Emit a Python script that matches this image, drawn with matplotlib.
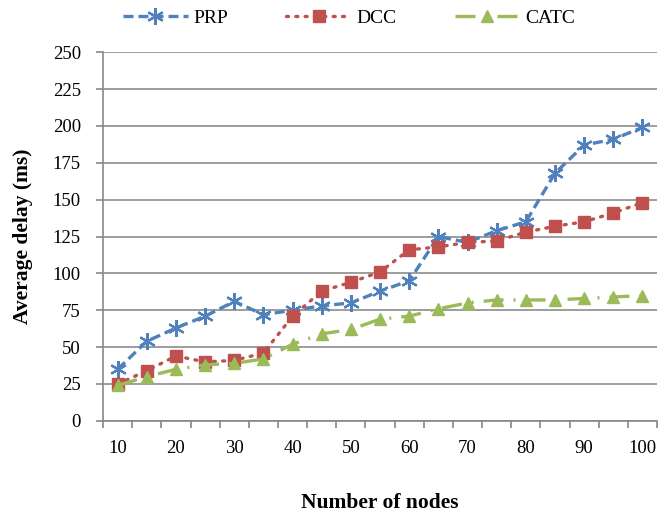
import matplotlib
matplotlib.use('agg')
import matplotlib.pyplot as plt
import numpy as np

nodes = [10, 15, 20, 25, 30, 35, 40, 45, 50, 55, 60, 65, 70, 75, 80, 85, 90, 95, 100]
prp = [35, 54, 63, 71, 81, 72, 75, 78, 80, 88, 95, 125, 121, 129, 135, 168, 187, 191, 199]
dcc = [25, 34, 44, 40, 41, 46, 71, 88, 94, 101, 116, 118, 121, 122, 128, 132, 135, 141, 148]
catc = [24, 30, 35, 38, 39, 42, 52, 59, 62, 69, 71, 76, 80, 82, 82, 82, 83, 84, 85]

plt.rcParams['font.family'] = ['Liberation Serif', 'DejaVu Serif']
plt.rcParams['font.size'] = 13.5

fig = plt.figure(figsize=(6.61, 5.12), dpi=100)
ax = fig.add_axes([0.156, 0.178, 0.838, 0.72])

x = np.arange(len(nodes))
ax.plot(x, prp, color='#4F81BD', linestyle=(0, (3, 1.5)), linewidth=2.4,
        marker=(6, 2, 0), markersize=12, markeredgewidth=1.6, label='PRP')
ax.plot(x, dcc, color='#C0504D', linestyle=(0, (0.6, 2.2)), linewidth=2.4,
        dash_capstyle='round', marker='s', markersize=9, label='DCC')
ax.plot(x, catc, color='#9BBB59', linestyle=(0, (6, 3, 0.6, 3)), linewidth=2.4,
        marker='^', markersize=9, label='CATC')

ax.set_xlim(-0.5, len(nodes) - 0.5)
ax.set_ylim(0, 250)
ax.set_yticks(range(0, 251, 25))
ax.set_xticks(x[::2], [str(n) for n in nodes[::2]])
ax.set_xticks(np.arange(-0.5, len(nodes), 1), minor=True)
ax.tick_params(axis='x', which='major', length=0, pad=14)
ax.tick_params(axis='x', which='minor', length=5, color='#888888', width=1.2)
ax.tick_params(axis='y', length=5, color='#888888', width=1.2, pad=11)
ax.grid(axis='y', color='#8c8c8c', linewidth=1.2)
ax.set_axisbelow(True)
for s in ['top', 'right']:
    ax.spines[s].set_visible(False)
for s in ['left', 'bottom']:
    ax.spines[s].set_color('#888888')
    ax.spines[s].set_linewidth(1.2)

ax.set_ylabel('Average delay (ms)', fontweight='bold', fontsize=15.5, labelpad=14)
ax.set_xlabel('Number of nodes', fontweight='bold', fontsize=15.5, labelpad=26)

ax.legend(loc='upper center', bbox_to_anchor=(0.444, 1.165), ncol=3, frameon=False,
          handlelength=3.3, handletextpad=0.3, columnspacing=3.0, fontsize=14)

fig.savefig('out.png', dpi=100)
